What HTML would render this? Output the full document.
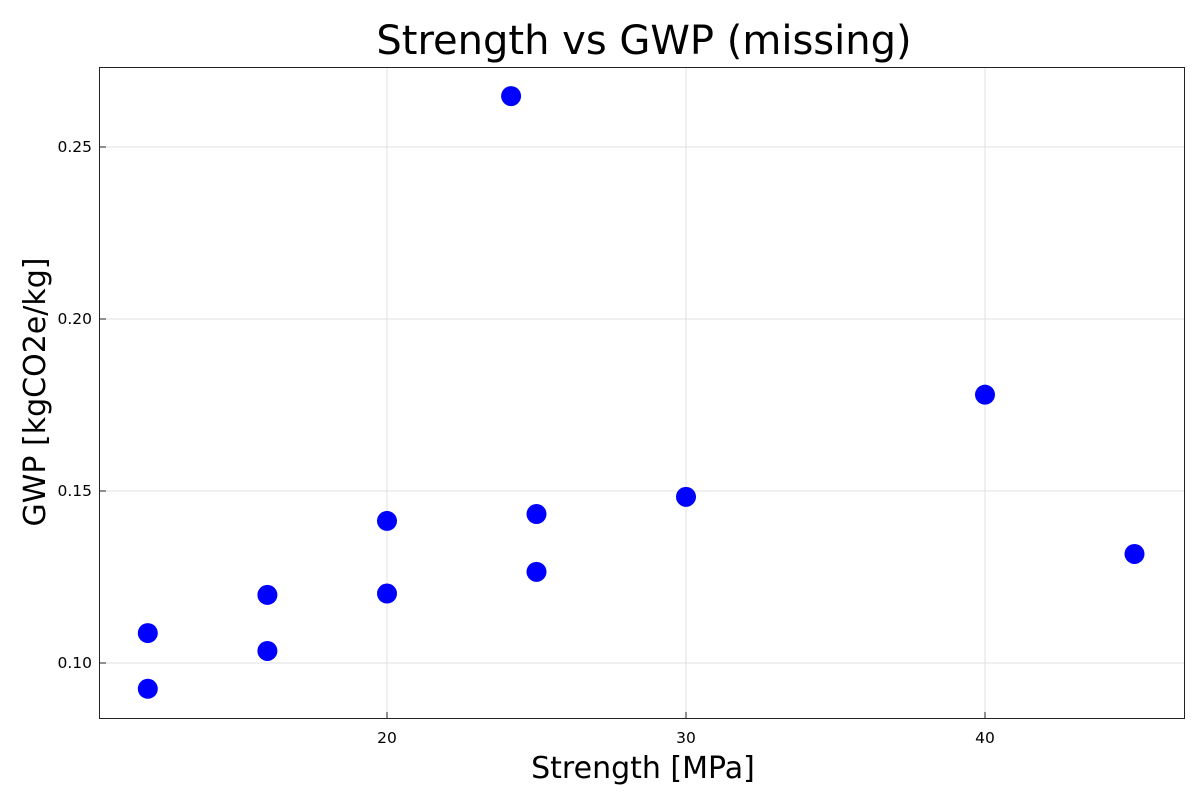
<!DOCTYPE html>
<html><head><meta charset="utf-8"><style>
html,body{margin:0;padding:0;background:#fff;}
svg{display:block;font-family:"DejaVu Sans","Liberation Sans",sans-serif;}
</style></head><body>
<svg id="chart" width="1200" height="800">
<text x="644" y="54" font-size="40" text-anchor="middle">Strength vs GWP (missing)</text>
<g id="grid"></g>
<g id="ticks"></g>
<rect x="99.5" y="67.5" width="1085" height="651" fill="none" stroke="#222" stroke-width="1"/>
<g id="points"></g>
<text x="643" y="778" font-size="30" text-anchor="middle">Strength [MPa]</text>
<text transform="translate(45,392) rotate(-90)" font-size="30" text-anchor="middle">GWP [kgCO2e/kg]</text>
</svg>
<script>
const strength = [12, 12, 16, 16, 20, 20, 24.15, 25, 25, 30, 40, 45];
const gwp = [0.1087, 0.0925, 0.1198, 0.1035, 0.1413, 0.1202, 0.2648, 0.1433, 0.1265, 0.1483, 0.178, 0.1317];
const xTicks = [20, 30, 40];
const yTicks = [0.10, 0.15, 0.20, 0.25];
const yTickLabels = ["0.10", "0.15", "0.20", "0.25"];

const NS = "http://www.w3.org/2000/svg";
function xs(v){ return 387 + (v - 20) * 29.9; }
function ys(v){ return 663 - (v - 0.10) * 3440; }
function mk(tag, attrs, parent){
  const e = document.createElementNS(NS, tag);
  for (const k in attrs) e.setAttribute(k, attrs[k]);
  document.getElementById(parent).appendChild(e);
  return e;
}
xTicks.forEach(t => {
  const X = xs(t);
  const g = mk("line", {x1:X, x2:X, y1:68, y2:718, stroke:"#e0e0e0", "stroke-width":1}, "grid");
  
  
  const tk = mk("line", {x1:X, x2:X, y1:712, y2:718, stroke:"#222", "stroke-width":1}, "ticks");
  
  
  const l = mk("text", {x:X, y:743, "font-size":15.5, "text-anchor":"middle"}, "ticks");
  l.textContent = String(t);
  
  
});
yTicks.forEach((t, i) => {
  const Y = ys(t);
  const g = mk("line", {x1:100, x2:1184, y1:Y, y2:Y, stroke:"#e0e0e0", "stroke-width":1}, "grid");
  
  
  const tk = mk("line", {x1:100, x2:106, y1:Y, y2:Y, stroke:"#222", "stroke-width":1}, "ticks");
  
  
  const l = mk("text", {x:92, y:Y + 5, "font-size":15.5, "text-anchor":"end"}, "ticks");
  l.textContent = yTickLabels[i];
  
  
});
strength.forEach((s, i) => {
  const c = mk("circle", {cx:xs(s), cy:ys(gwp[i]), r:10, fill:"#0000ff"}, "points");
  
  
});
</script>
</body></html>
